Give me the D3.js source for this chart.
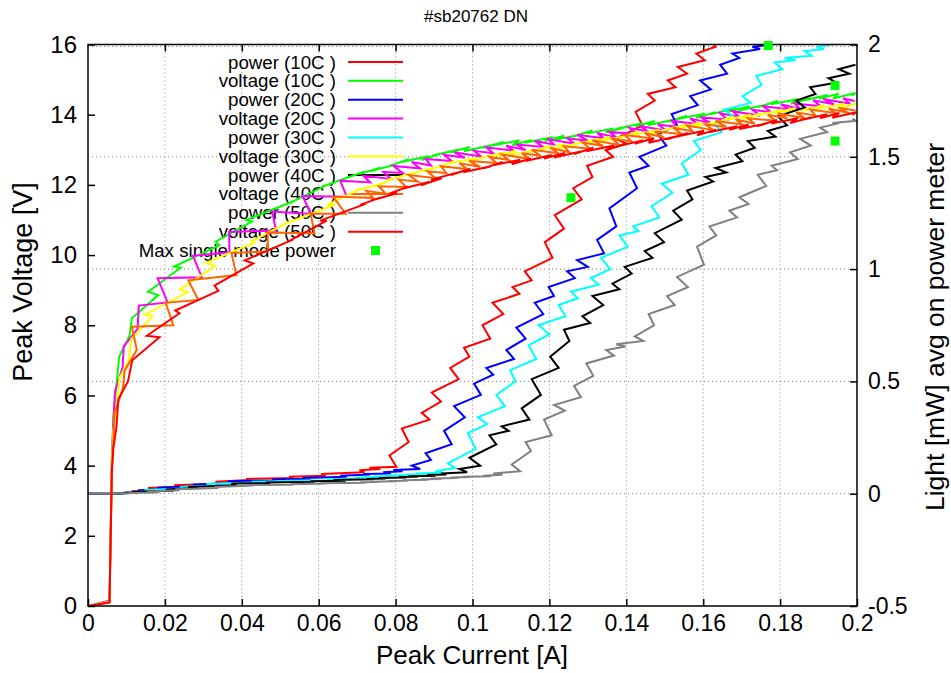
<!DOCTYPE html>
<meta charset="utf-8">
<style>
  body { margin: 0; background: #fff; }
  svg text { font-family: "Liberation Sans", Arial, sans-serif; fill: #000; }
  .grid line { stroke: #808080; stroke-width: 1; stroke-dasharray: 1,3; }
  .axis path { display: none; }
  .axis line { stroke: #000; stroke-width: 1.5; }
  .trace { fill: none; stroke-width: 2; }
</style>
<body>
<script src="https://d3js.org/d3.v7.min.js"></script>
<script>
// peak current [mA], peak voltage [V], light [mW] for each temperature

var current10 = [0, 5.6, 6.2, 6.6, 7.5, 8.1, 10.8, 11.4, 18.3, 15.6,
  24.1, 22.4, 34.2, 33.2, 42.7, 41.1, 53.6, 52.3, 61.8, 60.7,
  71.9, 70.6, 76.0, 73.2, 80.2, 78.4, 83.4, 81.6, 88.8, 86.8,
  91.8, 89.4, 96.4, 94.2, 99.2, 97.8, 104.6, 102.6, 108.0, 105.2,
  112.2, 110.4, 115.4, 113.6, 120.8, 118.8, 123.8, 121.4, 128.4, 126.2,
  131.2, 129.8, 136.6, 134.6, 140.0, 137.2, 144.2, 142.4, 147.4, 145.6,
  152.8, 150.8, 155.8, 153.4, 160.4, 158.2, 163.2, 161.8, 168.6, 166.6,
  172.0, 169.2, 176.2, 174.4, 179.4, 177.6, 184.8, 182.8, 187.8, 185.4,
  192.4, 190.2, 195.2, 193.8, 199.6, 198.6];
var voltage10 = [0, 0.15, 4.2, 5.4, 6.4, 7.1, 7.7, 8.2, 8.86, 8.95,
  9.64, 9.67, 10.28, 10.38, 10.96, 11.0, 11.54, 11.47, 11.98, 11.94,
  12.38, 12.31, 12.49, 12.39, 12.58, 12.54, 12.73, 12.65, 12.82, 12.71,
  12.89, 12.83, 13.01, 12.92, 13.08, 12.96, 13.12, 13.05, 13.22, 13.12,
  13.27, 13.13, 13.28, 13.2, 13.36, 13.25, 13.4, 13.28, 13.44, 13.38,
  13.55, 13.46, 13.61, 13.49, 13.65, 13.59, 13.76, 13.67, 13.82, 13.7,
  13.86, 13.8, 13.97, 13.88, 14.03, 13.91, 14.07, 14.01, 14.18, 14.09,
  14.24, 14.12, 14.28, 14.22, 14.39, 14.3, 14.45, 14.31, 14.47, 14.39,
  14.56, 14.45, 14.6, 14.46, 14.62, 14.54];
var power10 = [0, 0, 0, 0, 0, 0.002, 0.005, 0.01, 0.018, 0.025,
  0.032, 0.038, 0.045, 0.053, 0.062, 0.066, 0.07, 0.075, 0.08, 0.088,
  0.096, 0.104, 0.11, 0.115, 0.12, 0.17, 0.23, 0.29, 0.33, 0.36,
  0.41, 0.45, 0.51, 0.56, 0.61, 0.65, 0.69, 0.75, 0.8, 0.85,
  0.89, 0.92, 0.95, 0.99, 1.05, 1.12, 1.18, 1.24, 1.31, 1.36,
  1.41, 1.46, 1.5, 1.53, 1.56, 1.58, 1.64, 1.7, 1.75, 1.78,
  1.81, 1.84, 1.87, 1.9, 1.93, 1.96, 1.99, 2.02, 2.05, 2.08,
  2.11, 2.14, 2.17, 2.2, 2.23, 2.26, 2.29, 2.32, 2.35, 2.38,
  2.41, 2.44, 2.47, 2.5, 2.53, 2.56];

var current20 = [0, 5.6, 6.2, 6.6, 7.0, 9.0, 9.3, 12.9, 13.2, 20.7,
  18.1, 29.6, 27.3, 36.8, 36.7, 48.9, 47.9, 58.0, 55.8, 67.3,
  65.6, 73.4, 71.6, 78.8, 76.8, 81.8, 79.4, 86.4, 84.2, 89.2,
  87.8, 94.6, 92.6, 98.0, 95.2, 102.2, 100.4, 105.4, 103.6, 110.8,
  108.8, 113.8, 111.4, 118.4, 116.2, 121.2, 119.8, 126.6, 124.6, 130.0,
  127.2, 134.2, 132.4, 137.4, 135.6, 142.8, 140.8, 145.8, 143.4, 150.4,
  148.2, 153.2, 151.8, 158.6, 156.6, 162.0, 159.2, 166.2, 164.4, 169.4,
  167.6, 174.8, 172.8, 177.8, 175.4, 182.4, 180.2, 185.2, 183.8, 190.6,
  188.6, 194.0, 191.2, 198.2, 196.4, 199.4];
var voltage20 = [0, 0.15, 4.1, 5.2, 6.1, 6.8, 7.4, 7.9, 8.56, 8.65,
  9.34, 9.37, 9.98, 10.08, 10.66, 10.7, 11.24, 11.17, 11.68, 11.66,
  12.12, 12.07, 12.26, 12.17, 12.37, 12.34, 12.54, 12.47, 12.65, 12.55,
  12.74, 12.68, 12.86, 12.77, 12.93, 12.81, 12.97, 12.9, 13.07, 12.97,
  13.12, 12.99, 13.15, 13.08, 13.25, 13.15, 13.3, 13.17, 13.33, 13.26,
  13.43, 13.33, 13.48, 13.35, 13.51, 13.44, 13.62, 13.52, 13.68, 13.55,
  13.72, 13.65, 13.83, 13.73, 13.89, 13.76, 13.93, 13.86, 14.04, 13.94,
  14.1, 13.97, 14.14, 14.07, 14.25, 14.15, 14.3, 14.16, 14.32, 14.24,
  14.41, 14.3, 14.45, 14.31, 14.47, 14.39];
var power20 = [0, 0, 0, 0, 0, 0.002, 0.004, 0.008, 0.015, 0.02,
  0.027, 0.034, 0.04, 0.047, 0.055, 0.059, 0.063, 0.067, 0.07, 0.075,
  0.08, 0.085, 0.088, 0.09, 0.095, 0.1, 0.105, 0.11, 0.125, 0.15,
  0.18, 0.22, 0.28, 0.34, 0.39, 0.44, 0.49, 0.53, 0.56, 0.6,
  0.64, 0.69, 0.74, 0.8, 0.85, 0.88, 0.92, 0.96, 0.99, 1.01,
  1.04, 1.07, 1.13, 1.19, 1.27, 1.36, 1.43, 1.46, 1.5, 1.55,
  1.6, 1.64, 1.69, 1.73, 1.77, 1.8, 1.84, 1.87, 1.91, 1.94,
  1.96, 1.98, 1.99, 2.0, 2.03, 2.06, 2.09, 2.12, 2.15, 2.18,
  2.21, 2.24, 2.27, 2.3, 2.33, 2.36];

var current30 = [0, 5.6, 6.2, 6.6, 7.6, 8.2, 10.6, 11.2, 16.8, 14.7,
  25.9, 23.9, 33.0, 30.8, 43.3, 42.6, 52.1, 51.4, 64.2, 62.2,
  70.7, 69.4, 76.4, 74.2, 79.2, 77.8, 84.6, 82.6, 88.0, 85.2,
  92.2, 90.4, 95.4, 93.6, 100.8, 98.8, 103.8, 101.4, 108.4, 106.2,
  111.2, 109.8, 116.6, 114.6, 120.0, 117.2, 124.2, 122.4, 127.4, 125.6,
  132.8, 130.8, 135.8, 133.4, 140.4, 138.2, 143.2, 141.8, 148.6, 146.6,
  152.0, 149.2, 156.2, 154.4, 159.4, 157.6, 164.8, 162.8, 167.8, 165.4,
  172.4, 170.2, 175.2, 173.8, 180.6, 178.6, 184.0, 181.2, 188.2, 186.4,
  191.4, 189.6, 196.8, 194.8, 199.8, 197.4];
var voltage30 = [0, 0.12, 4.0, 5.0, 5.8, 6.5, 7.0, 7.6, 8.26, 8.3,
  8.94, 9.02, 9.68, 9.78, 10.36, 10.4, 10.94, 10.9, 11.43, 11.43,
  11.88, 11.83, 12.03, 11.95, 12.16, 12.14, 12.34, 12.27, 12.45, 12.35,
  12.54, 12.49, 12.68, 12.6, 12.77, 12.66, 12.82, 12.75, 12.92, 12.82,
  12.97, 12.84, 13.0, 12.93, 13.1, 13.0, 13.16, 13.03, 13.2, 13.13,
  13.31, 13.21, 13.37, 13.24, 13.41, 13.34, 13.52, 13.42, 13.58, 13.45,
  13.62, 13.55, 13.73, 13.63, 13.79, 13.66, 13.83, 13.76, 13.94, 13.84,
  14.0, 13.87, 14.04, 13.97, 14.15, 14.05, 14.19, 14.05, 14.2, 14.12,
  14.28, 14.17, 14.31, 14.17, 14.32, 14.24];
var power30 = [0, 0, 0, 0, 0, 0.001, 0.003, 0.006, 0.012, 0.017,
  0.024, 0.03, 0.036, 0.043, 0.05, 0.053, 0.056, 0.058, 0.06, 0.064,
  0.068, 0.072, 0.074, 0.077, 0.079, 0.081, 0.083, 0.085, 0.087, 0.09,
  0.093, 0.1, 0.115, 0.135, 0.2, 0.27, 0.31, 0.34, 0.39, 0.44,
  0.5, 0.55, 0.6, 0.66, 0.71, 0.75, 0.79, 0.84, 0.87, 0.9,
  0.93, 0.96, 1.0, 1.05, 1.1, 1.15, 1.17, 1.19, 1.23, 1.28,
  1.34, 1.38, 1.42, 1.47, 1.53, 1.57, 1.61, 1.65, 1.68, 1.71,
  1.74, 1.77, 1.82, 1.86, 1.89, 1.92, 1.93, 1.94, 1.95, 1.97,
  1.98, 1.99, 2.01, 2.03, 2.06, 2.09];

var current40 = [0, 5.6, 6.2, 6.6, 6.9, 9.1, 9.5, 12.7, 11.4, 22.2,
  20.2, 28.7, 26.1, 38.6, 37.3, 46.8, 46.7, 58.9, 57.9, 67.0,
  63.8, 74.2, 72.4, 77.4, 75.6, 82.8, 80.8, 85.8, 83.4, 90.4,
  88.2, 93.2, 91.8, 98.6, 96.6, 102.0, 99.2, 106.2, 104.4, 109.4,
  107.6, 114.8, 112.8, 117.8, 115.4, 122.4, 120.2, 125.2, 123.8, 130.6,
  128.6, 134.0, 131.2, 138.2, 136.4, 141.4, 139.6, 146.8, 144.8, 149.8,
  147.4, 154.4, 152.2, 157.2, 155.8, 162.6, 160.6, 166.0, 163.2, 170.2,
  168.4, 173.4, 171.6, 178.8, 176.8, 181.8, 179.4, 186.4, 184.2, 189.2,
  187.8, 194.6, 192.6, 198.0, 195.2, 199.6];
var voltage40 = [0, 0.1, 3.9, 4.7, 5.5, 6.2, 6.7, 7.3, 7.96, 8.0,
  8.64, 8.72, 9.28, 9.43, 10.06, 10.1, 10.64, 10.62, 11.18, 11.18,
  11.66, 11.63, 11.83, 11.75, 11.96, 11.94, 12.15, 12.09, 12.28, 12.19,
  12.39, 12.34, 12.53, 12.45, 12.62, 12.51, 12.68, 12.62, 12.8, 12.71,
  12.87, 12.74, 12.9, 12.83, 13.0, 12.9, 13.06, 12.93, 13.1, 13.03,
  13.21, 13.11, 13.27, 13.14, 13.31, 13.24, 13.42, 13.32, 13.48, 13.35,
  13.52, 13.45, 13.63, 13.53, 13.69, 13.56, 13.72, 13.65, 13.82, 13.72,
  13.87, 13.74, 13.9, 13.83, 14.0, 13.9, 14.04, 13.9, 14.06, 13.98,
  14.15, 14.04, 14.18, 14.04, 14.2, 14.12];
var power40 = [0, 0, 0, 0, 0, 0.001, 0.002, 0.005, 0.009, 0.013,
  0.019, 0.025, 0.03, 0.038, 0.045, 0.048, 0.05, 0.053, 0.055, 0.058,
  0.061, 0.064, 0.066, 0.068, 0.07, 0.072, 0.074, 0.076, 0.078, 0.08,
  0.083, 0.086, 0.09, 0.096, 0.11, 0.125, 0.16, 0.22, 0.26, 0.28,
  0.3, 0.33, 0.38, 0.44, 0.51, 0.56, 0.61, 0.68, 0.73, 0.76,
  0.79, 0.84, 0.88, 0.91, 0.935, 0.98, 1.01, 1.05, 1.08, 1.12,
  1.16, 1.22, 1.26, 1.31, 1.35, 1.39, 1.41, 1.43, 1.45, 1.48,
  1.51, 1.54, 1.57, 1.59, 1.615, 1.64, 1.68, 1.72, 1.75, 1.78,
  1.81, 1.83, 1.85, 1.87, 1.89, 1.91];

var current50 = [0, 5.6, 6.2, 6.6, 7.4, 7.9, 10.4, 11.5, 18.6, 15.3,
  23.8, 22.7, 33.9, 32.9, 43.0, 40.8, 53.3, 52.6, 62.1, 60.4,
  72.2, 70.8, 75.8, 73.4, 80.4, 78.2, 83.2, 81.8, 88.6, 86.6,
  92.0, 89.2, 96.2, 94.4, 99.4, 97.6, 104.8, 102.8, 107.8, 105.4,
  112.4, 110.2, 115.2, 113.8, 120.6, 118.6, 124.0, 121.2, 128.2, 126.4,
  131.4, 129.6, 136.8, 134.8, 139.8, 137.4, 144.4, 142.2, 147.2, 145.8,
  152.6, 150.6, 156.0, 153.2, 160.2, 158.4, 163.4, 161.6, 168.8, 166.8,
  171.8, 169.4, 176.4, 174.2, 179.2, 177.8, 184.6, 182.6, 188.0, 185.2,
  192.2, 190.4, 195.4, 193.6, 199.8, 198.8];
var voltage50 = [0, 0.1, 3.8, 4.5, 5.1, 5.9, 6.4, 7.0, 7.66, 7.7,
  8.34, 8.42, 8.98, 9.13, 9.76, 9.85, 10.44, 10.42, 10.98, 10.98,
  11.46, 11.43, 11.63, 11.55, 11.76, 11.74, 11.95, 11.89, 12.08, 11.99,
  12.19, 12.15, 12.35, 12.28, 12.46, 12.36, 12.53, 12.47, 12.65, 12.56,
  12.72, 12.59, 12.75, 12.68, 12.85, 12.75, 12.91, 12.78, 12.95, 12.88,
  13.06, 12.96, 13.12, 12.99, 13.16, 13.09, 13.27, 13.17, 13.33, 13.2,
  13.37, 13.3, 13.48, 13.38, 13.54, 13.41, 13.57, 13.5, 13.67, 13.57,
  13.72, 13.59, 13.75, 13.68, 13.85, 13.75, 13.9, 13.76, 13.92, 13.84,
  14.01, 13.9, 14.05, 13.91, 14.07, 13.99];
var power50 = [0, 0, 0, 0, 0, 0.001, 0.002, 0.003, 0.006, 0.01,
  0.015, 0.02, 0.025, 0.03, 0.036, 0.038, 0.04, 0.042, 0.045, 0.047,
  0.049, 0.051, 0.052, 0.053, 0.055, 0.056, 0.058, 0.06, 0.062, 0.064,
  0.066, 0.068, 0.07, 0.072, 0.074, 0.076, 0.078, 0.08, 0.084, 0.09,
  0.1, 0.13, 0.19, 0.23, 0.26, 0.33, 0.37, 0.395, 0.43, 0.48,
  0.525, 0.58, 0.615, 0.64, 0.655, 0.665, 0.68, 0.7, 0.75, 0.8,
  0.84, 0.88, 0.92, 0.965, 1.02, 1.1, 1.15, 1.19, 1.23, 1.26,
  1.29, 1.32, 1.37, 1.42, 1.44, 1.46, 1.49, 1.52, 1.55, 1.58,
  1.61, 1.63, 1.65, 1.65, 1.66, 1.67];

// max single mode power points
var maxCurrent = [125.6, 176.9, 194.3, 194.3];
var maxPower = [1.318, 1.995, 1.817, 1.57];

var temps = ["10C", "20C", "30C", "40C", "50C"];
var powerColors = ["#ff0000", "#0000ff", "#00ffff", "#000000", "#808080"];
var voltageColors = ["#00ff00", "#ff00ff", "#ffff00", "#ff6400", "#ff0000"];

var xTicks = [0, 0.02, 0.04, 0.06, 0.08, 0.1, 0.12, 0.14, 0.16, 0.18, 0.2];
var yTicks = [0, 2, 4, 6, 8, 10, 12, 14, 16];
var y2Ticks = [-0.5, 0, 0.5, 1, 1.5, 2];

var currents = [current10, current20, current30, current40, current50];
var voltages = [voltage10, voltage20, voltage30, voltage40, voltage50];
var powers = [power10, power20, power30, power40, power50];

currents.forEach(function(c, t) {
  if (c.length !== voltages[t].length || c.length !== powers[t].length) {
    throw new Error("length mismatch " + temps[t] + ": " + c.length + " " + voltages[t].length + " " + powers[t].length);
  }
});

var width = 951, height = 673;
var plotLeft = 88, plotRight = 857, plotTop = 44.5, plotBottom = 606;

var x = d3.scaleLinear().domain([0, 0.2]).range([plotLeft, plotRight]);
var y = d3.scaleLinear().domain([0, 16]).range([plotBottom, plotTop]);
var y2 = d3.scaleLinear().domain([-0.5, 2]).range([plotBottom, plotTop]);

var svg = d3.select("body").append("svg")
    .attr("width", width)
    .attr("height", height);

svg.append("defs").append("clipPath")
    .attr("id", "plotclip")
  .append("rect")
    .attr("x", plotLeft).attr("y", plotTop)
    .attr("width", plotRight - plotLeft).attr("height", plotBottom - plotTop);

// grid: vertical on x ticks, horizontal on y2 ticks
var grid = svg.append("g").attr("class", "grid");
grid.selectAll("line.gx")
    .data(xTicks.slice(1, -1))
  .enter().append("line")
    .attr("x1", function(d) { return x(d); })
    .attr("x2", function(d) { return x(d); })
    .attr("y1", plotTop).attr("y2", plotBottom);
grid.selectAll("line.gy")
    .data(y2Ticks.slice(1))
  .enter().append("line")
    .attr("x1", plotLeft).attr("x2", plotRight)
    .attr("y1", function(d) { return d === 2 ? y2(d) + 2 : y2(d); })
    .attr("y2", function(d) { return d === 2 ? y2(d) + 2 : y2(d); });

// axes, ticks pointing inward
var fmt = function(d) { return String(d); };

svg.append("g").attr("class", "axis")
    .attr("transform", "translate(0," + plotBottom + ")")
    .call(d3.axisBottom(x).tickValues(xTicks).tickFormat(fmt).tickSizeInner(-7).tickSizeOuter(0).tickPadding(9))
    .selectAll("text").style("font-size", "23px");

svg.append("g").attr("class", "axis")
    .attr("transform", "translate(0," + plotTop + ")")
    .call(d3.axisTop(x).tickValues(xTicks.slice(1, -1)).tickFormat("").tickSizeInner(-7).tickSizeOuter(0));

svg.append("g").attr("class", "axis")
    .attr("transform", "translate(" + plotLeft + ",0)")
    .call(d3.axisLeft(y).tickValues(yTicks).tickFormat(fmt).tickSizeInner(-7).tickSizeOuter(0).tickPadding(11))
    .selectAll("text").style("font-size", "24px");

svg.append("g").attr("class", "axis")
    .attr("transform", "translate(" + plotRight + ",0)")
    .call(d3.axisRight(y2).tickValues(y2Ticks).tickFormat(fmt).tickSizeInner(-7).tickSizeOuter(0).tickPadding(11))
    .selectAll("text").style("font-size", "23px");

// titles
svg.append("text")
    .attr("x", 476).attr("y", 22)
    .attr("text-anchor", "middle")
    .style("font-family", "'Liberation Sans Narrow', 'Liberation Sans', Arial, sans-serif")
    .style("font-size", "17px")
    .text("#sb20762 DN");

svg.append("text")
    .attr("x", 472).attr("y", 664)
    .attr("text-anchor", "middle")
    .style("font-size", "26px")
    .text("Peak Current [A]");

svg.append("text")
    .attr("transform", "translate(32,282) rotate(-90)")
    .attr("text-anchor", "middle")
    .style("font-size", "27px")
    .text("Peak Voltage [V]");

svg.append("text")
    .attr("transform", "translate(944,327) rotate(-90)")
    .attr("text-anchor", "middle")
    .style("font-size", "26.5px")
    .text("Light [mW] avg on power meter");

// legend (drawn under the traces, as in the original)
var legendItems = [];
temps.forEach(function(t, i) {
  legendItems.push({label: "power (" + t + " )", color: powerColors[i]});
  legendItems.push({label: "voltage (" + t + " )", color: voltageColors[i]});
});

var legend = svg.append("g").attr("class", "legend");
var rowH = 18.85, legendTop = 62;
legendItems.forEach(function(item, i) {
  var ly = legendTop + i * rowH;
  legend.append("text")
      .attr("x", 336).attr("y", ly)
      .attr("dy", "0.35em")
      .attr("text-anchor", "end")
      .style("font-size", "18.7px")
      .text(item.label);
  legend.append("line")
      .attr("x1", 348).attr("x2", 403)
      .attr("y1", ly).attr("y2", ly)
      .attr("stroke", item.color)
      .attr("stroke-width", 2);
});
var lyMax = legendTop + legendItems.length * rowH;
legend.append("text")
    .attr("x", 336).attr("y", lyMax)
    .attr("dy", "0.35em")
    .attr("text-anchor", "end")
    .style("font-size", "18.7px")
    .text("Max single mode power");
legend.append("rect")
    .attr("x", 371).attr("y", lyMax - 4.5)
    .attr("width", 9).attr("height", 9)
    .attr("fill", "#00ff00");

// traces
var plot = svg.append("g").attr("clip-path", "url(#plotclip)");

var powerLine = d3.line()
    .x(function(d) { return x(d[0] / 1000); })
    .y(function(d) { return y2(d[1]); });
var voltLine = d3.line()
    .x(function(d) { return x(d[0] / 1000); })
    .y(function(d) { return y(d[1]); });

temps.forEach(function(t, i) {
  var pw = currents[i].map(function(c, k) { return [c, powers[i][k]]; });
  var vt = currents[i].map(function(c, k) { return [c, voltages[i][k]]; });
  plot.append("path")
      .attr("class", "trace")
      .attr("d", powerLine(pw))
      .attr("stroke", powerColors[i]);
  plot.append("path")
      .attr("class", "trace")
      .attr("d", voltLine(vt))
      .attr("stroke", voltageColors[i]);
});

svg.append("rect")
    .attr("x", plotLeft).attr("y", plotTop)
    .attr("width", plotRight - plotLeft).attr("height", plotBottom - plotTop)
    .attr("fill", "none")
    .attr("stroke", "#000")
    .attr("stroke-width", 1.5);

svg.selectAll("rect.maxpt")
    .data(maxCurrent)
  .enter().append("rect")
    .attr("class", "maxpt")
    .attr("x", function(d) { return x(d / 1000) - 4.5; })
    .attr("y", function(d, i) { return y2(maxPower[i]) - 4.5; })
    .attr("width", 9).attr("height", 9)
    .attr("fill", "#00ff00");
</script>
</body>
</html>
